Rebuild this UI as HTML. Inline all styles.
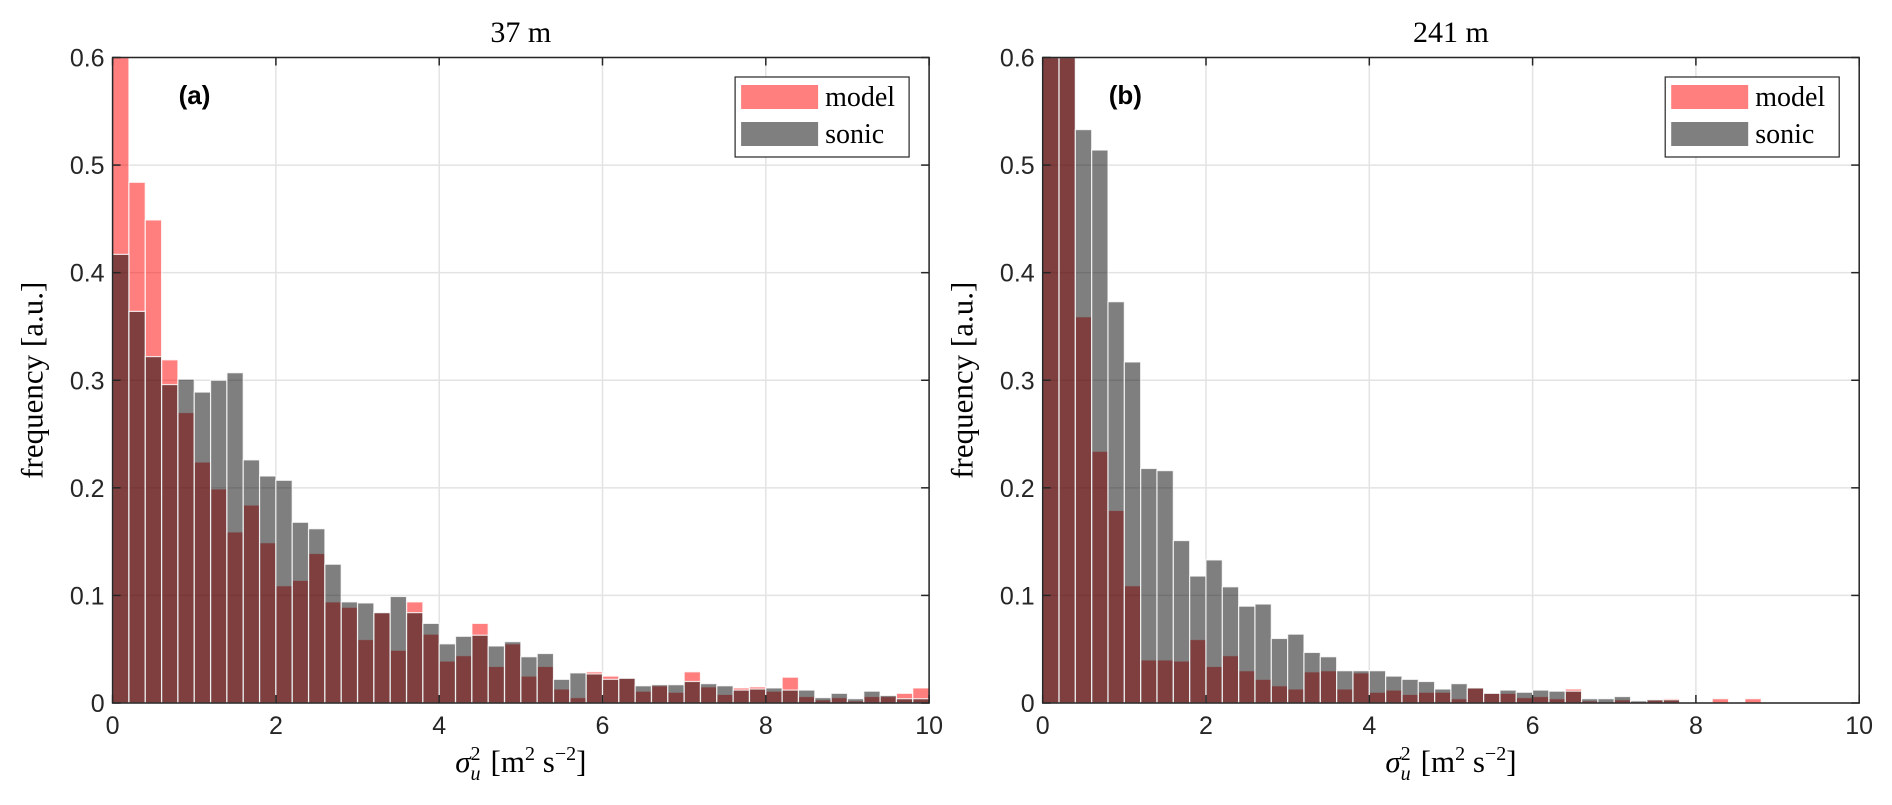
<!DOCTYPE html>
<html><head><meta charset="utf-8"><style>
html,body{margin:0;padding:0;background:#fff;}
svg{display:block;}
.tick{font-family:"Liberation Sans",sans-serif;font-size:25px;fill:#262626;}
.serif{font-family:"Liberation Serif","DejaVu Serif",serif;fill:#000;}
</style></head><body>
<svg id="fig" width="1892" height="805" viewBox="0 0 1892 805" xmlns="http://www.w3.org/2000/svg"></svg>
<script>
const binEdgesStart = 0;
const binWidth = 0.2;
const xTicks = [0, 2, 4, 6, 8, 10];
const yTicks = [0, 0.1, 0.2, 0.3, 0.4, 0.5, 0.6];
const yTickLabels = ["0", "0.1", "0.2", "0.3", "0.4", "0.5", "0.6"];
const xTickLabels = ["0", "2", "4", "6", "8", "10"];
const modelA = [0.65,0.484,0.449,0.319,0.270,0.224,0.199,0.159,0.184,0.149,
 0.109,0.114,0.139,0.094,0.089,0.059,0.084,0.049,0.094,0.064,
 0.039,0.044,0.074,0.034,0.055,0.025,0.034,0.013,0.005,0.029,
 0.025,0.023,0.011,0.016,0.010,0.029,0.015,0.008,0.014,0.015,
 0.011,0.024,0.006,0.003,0.005,0.002,0.006,0.006,0.009,0.014];
const sonicA = [0.417,0.364,0.322,0.296,0.301,0.289,0.300,0.307,0.226,0.211,
 0.207,0.168,0.162,0.129,0.094,0.093,0.084,0.099,0.084,0.074,
 0.055,0.062,0.063,0.053,0.057,0.043,0.046,0.022,0.028,0.027,
 0.022,0.023,0.016,0.017,0.017,0.020,0.018,0.016,0.012,0.013,
 0.014,0.012,0.012,0.005,0.009,0.004,0.011,0.007,0.004,0.004];
const modelB = [0.75,0.62,0.359,0.234,0.179,0.109,0.040,0.040,0.039,0.059,
 0.034,0.044,0.030,0.022,0.016,0.013,0.029,0.030,0.013,0.028,
 0.010,0.012,0.008,0.010,0.010,0.004,0.014,0.009,0.009,0.005,
 0.006,0.004,0.013,0.002,0.001,0.003,0.001,0.003,0.004,0,
 0,0.004,0,0.004,0,0,0,0,0,0];
const sonicB = [0.62,0.65,0.533,0.514,0.373,0.317,0.218,0.216,0.151,0.118,
 0.133,0.108,0.090,0.092,0.060,0.064,0.047,0.043,0.030,0.030,
 0.030,0.025,0.022,0.020,0.013,0.018,0.014,0.009,0.012,0.010,
 0.012,0.011,0.011,0.004,0.004,0.006,0.002,0.003,0.003,0,
 0,0,0,0,0,0,0,0,0,0];

const NS = "http://www.w3.org/2000/svg";
const svg = document.getElementById('fig');
function mk(tag, attrs, parent){const e=document.createElementNS(NS,tag);for(const k in attrs)e.setAttribute(k,attrs[k]);(parent||svg).appendChild(e);return e;}

function panel(px, title, label, model, sonic, id){
  const L=px, T=57.5, W=816.5, H=645.5, xMax=10, yMax=0.6;
  const X=v=>L+v/xMax*W, Y=v=>T+H-Math.min(v,yMax)/yMax*H;
  const g=mk('g',{});
  
  
  xTicks.forEach(t=>{const l=mk('line',{x1:X(t),x2:X(t),y1:T,y2:T+H,stroke:'#e3e3e3','stroke-width':1.5},g);
    });
  yTicks.forEach(t=>{const l=mk('line',{x1:L,x2:L+W,y1:Y(t),y2:Y(t),stroke:'#e3e3e3','stroke-width':1.5},g);
    });
  [[model,'#ff0000','model'],[sonic,'#000000','sonic']].forEach(([arr,col,nm])=>{
    arr.forEach((v,i)=>{ if(v<=0) return;
      const x0=X(binEdgesStart+i*binWidth), x1=X(binEdgesStart+(i+1)*binWidth);
      const r=mk('rect',{x:x0,y:Y(v),width:x1-x0,height:Y(0)-Y(v),fill:col,'fill-opacity':0.5,stroke:'#fff','stroke-opacity':0.8,'stroke-width':1.2},g);
      
      
    });
  });
  const b=mk('rect',{x:L,y:T,width:W,height:H,fill:'none',stroke:'#262626','stroke-width':1.5},g);
  
  xTicks.forEach((t,i)=>{
    mk('line',{x1:X(t),x2:X(t),y1:T+H,y2:T+H-8,stroke:'#262626','stroke-width':1.5},g);
    mk('line',{x1:X(t),x2:X(t),y1:T,y2:T+8,stroke:'#262626','stroke-width':1.5},g);
    const tx=mk('text',{x:X(t),y:T+H+31,'text-anchor':'middle',class:'tick'},g);tx.textContent=xTickLabels[i];
    
  });
  yTicks.forEach((t,i)=>{
    mk('line',{x1:L,x2:L+8,y1:Y(t),y2:Y(t),stroke:'#262626','stroke-width':1.5},g);
    mk('line',{x1:L+W,x2:L+W-8,y1:Y(t),y2:Y(t),stroke:'#262626','stroke-width':1.5},g);
    const tx=mk('text',{x:L-8,y:Y(t)+9,'text-anchor':'end',class:'tick'},g);tx.textContent=yTickLabels[i];
    
  });
  const tt=mk('text',{x:L+W/2,y:42,'text-anchor':'middle',class:'serif','font-size':30},g);tt.textContent=title;
  
  const pl=mk('text',{x:L+66,y:104,'font-family':'Liberation Sans, sans-serif','font-weight':'bold','font-size':26,fill:'#000'},g);pl.textContent=label;
  
  const yl=mk('text',{x:0,y:0,'text-anchor':'middle',class:'serif','font-size':31,transform:`translate(${L-70},${T+H/2}) rotate(-90)`},g);yl.textContent='frequency [a.u.]';
  
  const xl=mk('text',{x:L+W/2,y:772,'text-anchor':'middle',class:'serif','font-size':31},g);
  
  xl.innerHTML='<tspan font-style="italic">σ</tspan><tspan font-size="20" font-style="italic" dy="8">u</tspan><tspan font-size="20" dy="-20" dx="-10">2</tspan><tspan dy="12" dx="10">[m</tspan><tspan font-size="20" dy="-12">2</tspan><tspan dy="12"> s</tspan><tspan font-size="20" dy="-12">−2</tspan><tspan dy="12">]</tspan>';
  const lg=mk('g',{},g);
  
  const lx=L+W-194, ly=77;
  mk('rect',{x:lx,y:ly,width:174,height:80,fill:'#fff',stroke:'#262626','stroke-width':1.2},lg);
  [['model','#ff0000',0],['sonic','#000000',1]].forEach(([nm,col,k])=>{
    const e=mk('g',{},lg);
    
    
    mk('rect',{x:lx+6,y:ly+8+k*37,width:77,height:24,fill:col,'fill-opacity':0.5},e);
    const t=mk('text',{x:lx+90,y:ly+29+k*37,class:'serif','font-size':28},e);t.textContent=nm;
  });
}
panel(112.6,'37 m','(a)',modelA,sonicA,'panel-a');
panel(1042.7,'241 m','(b)',modelB,sonicB,'panel-b');
</script>
</body></html>
